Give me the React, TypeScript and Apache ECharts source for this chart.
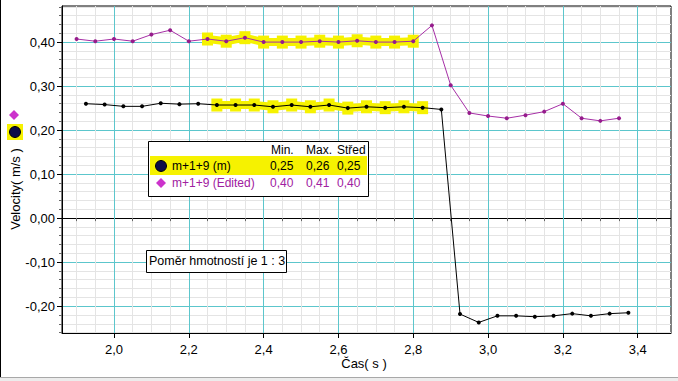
import React, { useEffect, useRef } from 'react';
import * as echarts from 'echarts';

// ---- data ----
const xBlack = [1.925, 1.975, 2.025, 2.075, 2.125, 2.175, 2.225, 2.275, 2.325, 2.375, 2.425, 2.475, 2.525, 2.575, 2.625, 2.675, 2.725, 2.775, 2.825, 2.875, 2.925, 2.975, 3.025, 3.075, 3.125, 3.175, 3.225, 3.275, 3.325, 3.375];
const yBlack = [0.260, 0.258, 0.254, 0.254, 0.261, 0.259, 0.260, 0.257, 0.257, 0.257, 0.253, 0.257, 0.253, 0.257, 0.250, 0.253, 0.251, 0.253, 0.251, 0.247, -0.218, -0.237, -0.222, -0.222, -0.224, -0.222, -0.217, -0.222, -0.217, -0.215];
const xEdited = [1.90, 1.95, 2.00, 2.05, 2.10, 2.15, 2.20, 2.25, 2.30, 2.35, 2.40, 2.45, 2.50, 2.55, 2.60, 2.65, 2.70, 2.75, 2.80, 2.85, 2.90, 2.95, 3.00, 3.05, 3.10, 3.15, 3.20, 3.25, 3.30, 3.35];
const yEdited = [0.407, 0.402, 0.407, 0.402, 0.417, 0.427, 0.402, 0.407, 0.402, 0.410, 0.400, 0.400, 0.400, 0.402, 0.400, 0.403, 0.400, 0.400, 0.402, 0.438, 0.302, 0.239, 0.232, 0.227, 0.234, 0.242, 0.260, 0.227, 0.221, 0.227];
// highlighted (selected) ranges, as index ranges into the series above
const blackSel = [7, 18];
const editedSel = [7, 18];

const xMajorTicks = [2.0, 2.2, 2.4, 2.6, 2.8, 3.0, 3.2, 3.4];
const yMajorTicks = [-0.2, -0.1, 0.0, 0.1, 0.2, 0.3, 0.4];
const xRange = [1.861, 3.489];
const yRange = [-0.261, 0.482];

const legendNames = ['m+1+9 (m)', 'm+1+9 (Edited)'];
const statHeaders = ['Min.', 'Max.', 'Střed'];
const statsBlack = ['0,25', '0,26', '0,25'];
const statsEdited = ['0,40', '0,41', '0,40'];
const noteText = 'Poměr hmotností je 1 : 3';
const yTitle = 'Velocity( m/s )';
const xTitle = 'Čas( s )';

const FONT = '"Liberation Sans", Arial, sans-serif';
const CYAN = '#5cc6cc';
const MINOR = '#e4e4e4';
const YELLOW = '#f6f200';
const MAG_LINE = '#a62fa6';
const MAG_PT = '#961c8c';

function minorValues(lo: number, hi: number, step: number, majors: number[]) {
  const out: number[] = [];
  const n0 = Math.ceil(lo / step - 1e-9);
  const n1 = Math.floor(hi / step + 1e-9);
  for (let n = n0; n <= n1; n++) {
    const v = Math.round(n * step * 1000) / 1000;
    if (!majors.some((m) => Math.abs(m - v) < 1e-6)) out.push(v);
  }
  return out;
}

const pairs = (xs: number[], ys: number[], from = 0, to = xs.length - 1) => {
  const r: number[][] = [];
  for (let i = from; i <= to; i++) r.push([xs[i], ys[i]]);
  return r;
};

export default function App() {
  const ref = useRef<HTMLDivElement>(null);
  useEffect(() => {
    document.body.style.margin = '0';
    const chart = echarts.init(ref.current!, null, { renderer: 'svg' });
    const xMinor = minorValues(xRange[0], xRange[1], 0.05, xMajorTicks);
    const yMinor = minorValues(yRange[0], yRange[1], 0.02, yMajorTicks);
    const commaFmt = (d: number) => (v: number) => v.toFixed(d).replace('.', ',');
    const grid = { left: 62, top: 6, width: 609, height: 327, show: true, borderColor: '#000', borderWidth: 1, backgroundColor: '#fff' };

    const option: any = {
      animation: false,
      backgroundColor: '#fff',
      textStyle: { fontFamily: FONT },
      grid,
      xAxis: [
        {
          type: 'value', min: xRange[0], max: xRange[1], position: 'bottom',
          axisLine: { show: true, onZero: false, lineStyle: { color: '#000', width: 1 } },
          axisTick: { show: true, customValues: xMajorTicks, length: 5, lineStyle: { color: '#000' } },
          axisLabel: { customValues: xMajorTicks, formatter: commaFmt(1), color: '#000', fontSize: 13, margin: 10, fontFamily: FONT },
          splitLine: { show: true, lineStyle: { color: CYAN, width: 1 } },
        },
        {
          type: 'value', min: xRange[0], max: xRange[1], position: 'bottom',
          axisLine: { show: false },
          axisTick: { show: true, customValues: xMinor, length: 3, lineStyle: { color: '#666' } },
          axisLabel: { show: false },
          splitLine: { show: true, lineStyle: { color: MINOR, width: 1 } },
        },
      ],
      yAxis: [
        {
          type: 'value', min: yRange[0], max: yRange[1], position: 'left',
          axisLine: { show: true, onZero: false, lineStyle: { color: '#000', width: 1 } },
          axisTick: { show: true, customValues: yMajorTicks, length: 5, lineStyle: { color: '#000' } },
          axisLabel: { customValues: yMajorTicks, formatter: commaFmt(2), color: '#000', fontSize: 13, margin: 7, fontFamily: FONT },
          splitLine: { show: true, lineStyle: { color: CYAN, width: 1 } },
        },
        {
          type: 'value', min: yRange[0], max: yRange[1], position: 'left',
          axisLine: { show: false },
          axisTick: { show: true, customValues: yMinor, length: 3, lineStyle: { color: '#666' } },
          axisLabel: { show: false },
          splitLine: { show: true, lineStyle: { color: MINOR, width: 1 } },
        },
        {
          type: 'value', min: yRange[0], max: yRange[1], position: 'left',
          axisLine: { show: false },
          axisTick: { show: false, customValues: [0] },
          axisLabel: { show: false, customValues: [0] },
          splitLine: { show: true, lineStyle: { color: '#000', width: 1 } },
        },
      ],
      series: [
        {
          type: 'line', xAxisIndex: 0, yAxisIndex: 0, z: 2,
          data: pairs(xBlack, yBlack, blackSel[0], blackSel[1]),
          symbol: 'rect', symbolSize: [11, 13], showSymbol: true,
          itemStyle: { color: YELLOW },
          lineStyle: { color: YELLOW, width: 8 },
          silent: true,
        },
        {
          type: 'line', xAxisIndex: 0, yAxisIndex: 0, z: 2,
          data: pairs(xEdited, yEdited, editedSel[0], editedSel[1]),
          symbol: 'rect', symbolSize: [11, 13], showSymbol: true,
          itemStyle: { color: YELLOW },
          lineStyle: { color: YELLOW, width: 8 },
          silent: true,
        },
        {
          name: legendNames[0], type: 'line', xAxisIndex: 0, yAxisIndex: 0, z: 3,
          data: pairs(xBlack, yBlack),
          symbol: 'circle', symbolSize: 4, showSymbol: true,
          itemStyle: { color: '#000' },
          lineStyle: { color: '#000', width: 1 },
        },
        {
          name: legendNames[1], type: 'line', xAxisIndex: 0, yAxisIndex: 0, z: 3,
          data: pairs(xEdited, yEdited),
          symbol: 'circle', symbolSize: 4, showSymbol: true,
          itemStyle: { color: MAG_PT },
          lineStyle: { color: MAG_LINE, width: 1 },
        },
      ],
      graphic: [
        // outer frame
        { type: 'line', z: 100, shape: { x1: 0.5, y1: 0, x2: 0.5, y2: 381 }, style: { stroke: '#000', lineWidth: 1 } },
        { type: 'rect', z: 100, shape: { x: 0, y: 377, width: 678, height: 4 }, style: { fill: '#ececec' } },
        { type: 'line', z: 101, shape: { x1: 0, y1: 377.5, x2: 678, y2: 377.5 }, style: { stroke: '#a8a8a8', lineWidth: 1 } },
        // axis titles
        { type: 'text', z: 100, x: 15, y: 189, rotation: Math.PI / 2, style: { text: yTitle, fontSize: 13, fontFamily: FONT, fill: '#000', align: 'center', verticalAlign: 'middle' } },
        { type: 'text', z: 100, x: 364, y: 363, style: { text: xTitle, fontSize: 13, fontFamily: FONT, fill: '#000', align: 'center', verticalAlign: 'middle' } },
        // left side icons
        { type: 'polygon', z: 100, shape: { points: [[14, 110], [19, 115], [14, 120], [9, 115]] }, style: { fill: '#cc33cc' } },
        { type: 'rect', z: 100, shape: { x: 7, y: 124, width: 16, height: 16 }, style: { fill: YELLOW } },
        { type: 'circle', z: 101, shape: { cx: 15, cy: 132, r: 5.5 }, style: { fill: '#0c0c48', stroke: '#000', lineWidth: 1 } },
        // legend / statistics box
        { type: 'rect', z: 100, shape: { x: 148.5, y: 141.5, width: 220, height: 55 }, style: { fill: '#fff', stroke: '#000', lineWidth: 1 } },
        { type: 'rect', z: 101, shape: { x: 150, y: 156, width: 217, height: 19 }, style: { fill: YELLOW } },
        ...statHeaders.map((t, i) => ({ type: 'text', z: 102, x: [271, 306, 337][i], y: 150, style: { text: t, fontSize: 12, fontFamily: FONT, fill: '#000', verticalAlign: 'middle' } })),
        { type: 'circle', z: 102, shape: { cx: 161, cy: 166, r: 5.5 }, style: { fill: '#0c0c48', stroke: '#000', lineWidth: 1 } },
        { type: 'text', z: 102, x: 172, y: 166, style: { text: legendNames[0], fontSize: 12, fontFamily: FONT, fill: '#000', verticalAlign: 'middle' } },
        ...statsBlack.map((t, i) => ({ type: 'text', z: 102, x: [270, 306, 337][i], y: 166, style: { text: t, fontSize: 12, fontFamily: FONT, fill: '#000', verticalAlign: 'middle' } })),
        { type: 'polygon', z: 102, shape: { points: [[161, 178], [166, 183], [161, 188], [156, 183]] }, style: { fill: '#cc33cc' } },
        { type: 'text', z: 102, x: 172, y: 183, style: { text: legendNames[1], fontSize: 12, fontFamily: FONT, fill: '#a020a0', verticalAlign: 'middle' } },
        ...statsEdited.map((t, i) => ({ type: 'text', z: 102, x: [270, 306, 337][i], y: 183, style: { text: t, fontSize: 12, fontFamily: FONT, fill: '#a020a0', verticalAlign: 'middle' } })),
        // note box
        { type: 'rect', z: 100, shape: { x: 146.5, y: 250.5, width: 140, height: 22 }, style: { fill: '#fff', stroke: '#000', lineWidth: 1 } },
        { type: 'text', z: 101, x: 149, y: 261, style: { text: noteText, fontSize: 12.5, fontFamily: FONT, fill: '#000', verticalAlign: 'middle' } },
      ],
    };
    chart.setOption(option);
    return () => chart.dispose();
  }, []);
  return <div ref={ref} style={{ width: 678, height: 381 }} />;
}
